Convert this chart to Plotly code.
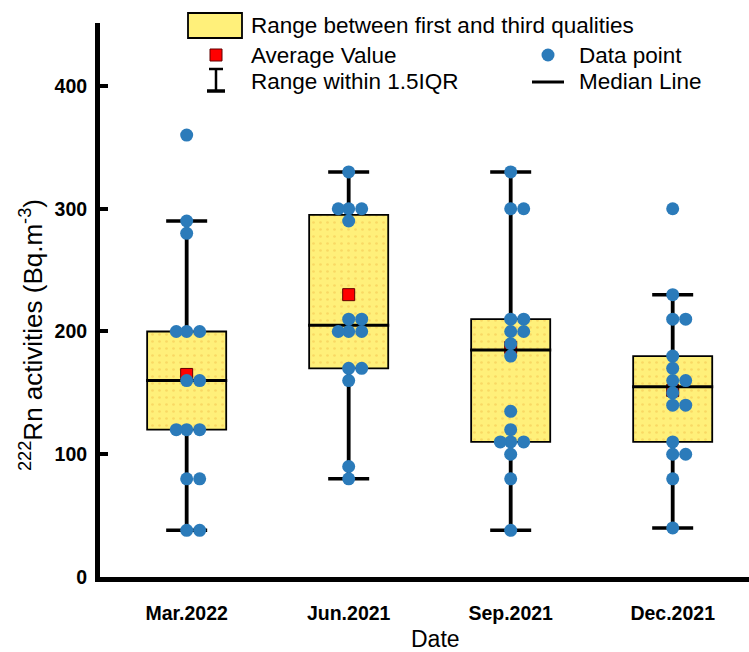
import plotly.graph_objects as go

# ---------------- data ----------------
categories = ["Mar.2022", "Jun.2021", "Sep.2021", "Dec.2021"]

q1_values = [120, 170, 110, 110]
median_values = [160, 205, 185, 155]
q3_values = [200, 295, 210, 180]
lower_whisker = [38, 80, 38, 40]
upper_whisker = [290, 330, 330, 230]
mean_values = [165, 230, 187, 152]

points_mar2022 = [360, 290, 280, 200, 200, 200, 160, 160, 120, 120, 120, 80, 80, 38, 38]
points_jun2021 = [330, 300, 300, 300, 290, 210, 210, 200, 200, 200, 170, 170, 160, 90, 80]
points_sep2021 = [330, 300, 300, 210, 210, 200, 200, 190, 180, 135, 120, 110, 110, 110, 100, 80, 38]
points_dec2021 = [300, 230, 210, 210, 180, 170, 160, 160, 150, 140, 140, 110, 100, 100, 80, 40]
all_points = [points_mar2022, points_jun2021, points_sep2021, points_dec2021]

y_tick_values = [0, 100, 200, 300, 400]

# ---------------- layout constants ----------------
W, H = 749, 652
ML, MR, MT, MB = 100, 0, 23, 75
PW, PH = W - ML - MR, H - MT - MB
X_RANGE = [-0.535, 3.471]
Y_RANGE = [0, 451.3]
PX_PER_X = PW / (X_RANGE[1] - X_RANGE[0])
PX_PER_Y = PH / (Y_RANGE[1] - Y_RANGE[0])

BOX_W = 0.488
YELLOW = "#FFF07A"
BLUE = "#2B7BBA"
RED = "#FF0000"
FONT = "Liberation Sans, Arial, sans-serif"
LINE_EW_FACTOR = 1.4  # plotly's line-ew symbol spans 1.4 * size


def swarm_offsets(values, step_px=6.5, min_dist_px=7.5):
    """Simple deterministic beeswarm layout (x offsets in data units)."""
    placed = []
    offs = []
    for v in values:
        vy = v * PX_PER_Y
        cands = [0.0]
        for i in range(1, 12):
            cands += [i * step_px, -i * step_px * 0.8]
        c = 0.0
        for c in cands:
            if all(((c - p) ** 2 + (vy - q) ** 2) ** 0.5 >= min_dist_px for p, q in placed):
                break
        placed.append((c, vy))
        offs.append(c / PX_PER_X)
    return offs


fig = go.Figure()

idx = list(range(len(categories)))

# box bodies (Q1-Q3)
fig.add_trace(go.Bar(
    x=idx,
    base=q1_values,
    y=[q3 - q1 for q1, q3 in zip(q1_values, q3_values)],
    width=BOX_W,
    marker=dict(
        color=YELLOW,
        line=dict(color="black", width=1.8),
        pattern=dict(shape=".", fgcolor="#F2C24E", bgcolor=YELLOW, size=7, solidity=0.12),
    ),
    showlegend=False,
    hoverinfo="skip",
))

# whiskers
wx, wy = [], []
for i in idx:
    wx += [i, i, None, i, i, None]
    wy += [q3_values[i], upper_whisker[i], None, q1_values[i], lower_whisker[i], None]
fig.add_trace(go.Scatter(x=wx, y=wy, mode="lines",
                         line=dict(color="black", width=3.8),
                         showlegend=False, hoverinfo="skip"))

# whisker caps
fig.add_trace(go.Scatter(
    x=idx + idx, y=upper_whisker + lower_whisker, mode="markers",
    marker=dict(symbol="line-ew", size=41 / LINE_EW_FACTOR, line=dict(color="black", width=3.5)),
    showlegend=False, hoverinfo="skip"))

# mean
fig.add_trace(go.Scatter(
    x=idx, y=mean_values, mode="markers",
    marker=dict(symbol="square", size=12, color=RED, line=dict(color="#600000", width=1)),
    showlegend=False))

# median
fig.add_trace(go.Scatter(
    x=idx, y=median_values, mode="markers",
    marker=dict(symbol="line-ew", size=(BOX_W * PX_PER_X + 2) / LINE_EW_FACTOR,
                line=dict(color="black", width=3)),
    showlegend=False))

# data points
for i, pts in enumerate(all_points):
    offs = swarm_offsets(pts)
    fig.add_trace(go.Scatter(
        x=[i + o for o in offs], y=pts, mode="markers",
        marker=dict(symbol="circle", size=13, color=BLUE),
        showlegend=False))


# ---------------- manual legend ----------------
def px(xp):
    return (xp - ML) / PW


def py(yp):
    return (H - MB - yp) / PH


shapes = [
    dict(type="rect", xref="paper", yref="paper", x0=px(188), x1=px(242), y0=py(38), y1=py(13),
         fillcolor=YELLOW, line=dict(color="black", width=1.8)),
    dict(type="rect", xref="paper", yref="paper", x0=px(210), x1=px(222), y0=py(61), y1=py(49),
         fillcolor=RED, line=dict(color="#600000", width=1)),
    dict(type="line", xref="paper", yref="paper", x0=px(216), x1=px(216), y0=py(91), y1=py(69),
         line=dict(color="black", width=2.5)),
    dict(type="line", xref="paper", yref="paper", x0=px(209), x1=px(223), y0=py(69), y1=py(69),
         line=dict(color="black", width=2.5)),
    dict(type="line", xref="paper", yref="paper", x0=px(207), x1=px(225), y0=py(91), y1=py(91),
         line=dict(color="black", width=3.5)),
    dict(type="circle", xref="paper", yref="paper", x0=px(541.5), x1=px(554.5), y0=py(61.5), y1=py(48.5),
         fillcolor=BLUE, line=dict(color=BLUE, width=0)),
    dict(type="line", xref="paper", yref="paper", x0=px(532), x1=px(564), y0=py(82), y1=py(82),
         line=dict(color="black", width=3)),
]

legend_text = [
    ("Range between first and third qualities", 249, 25),
    ("Average Value", 249, 55),
    ("Range within 1.5IQR", 249, 82),
    ("Data point", 577, 55),
    ("Median Line", 577, 82),
]
annotations = [
    dict(text=t, xref="paper", yref="paper", x=px(xp), y=py(yp), xanchor="left", yanchor="middle",
         showarrow=False, font=dict(family=FONT, size=22.5, color="black"))
    for t, xp, yp in legend_text
]
# axis titles
annotations.append(dict(text="Date", xref="paper", yref="paper", x=px(435), y=py(639),
                        xanchor="center", yanchor="middle", showarrow=False,
                        font=dict(family=FONT, size=23, color="black")))
annotations.append(dict(text="<sup>222</sup>Rn activities (Bq.m<sup>-3</sup>)", xref="paper", yref="paper",
                        x=px(31), y=py(335), xanchor="center", yanchor="middle", textangle=-90,
                        showarrow=False, font=dict(family=FONT, size=26, color="black")))

fig.update_layout(
    width=W, height=H,
    margin=dict(l=ML, r=MR, t=MT, b=MB),
    paper_bgcolor="white", plot_bgcolor="white",
    shapes=shapes, annotations=annotations,
    showlegend=False,
    font=dict(family=FONT, color="black"),
    xaxis=dict(range=X_RANGE, tickvals=idx, ticktext=categories, showgrid=False, zeroline=False,
               showline=True, linecolor="black", linewidth=5, ticks="",
               tickfont=dict(family=FONT, size=19.5, color="black", weight="bold"),
               ticklabelstandoff=15),
    yaxis=dict(range=Y_RANGE, tickvals=y_tick_values, showgrid=False, zeroline=False,
               showline=True, linecolor="black", linewidth=5, ticks="inside", ticklen=8, tickwidth=4,
               tickcolor="black",
               tickfont=dict(family=FONT, size=19.5, color="black", weight="bold"),
               ticklabelstandoff=4),
)

fig.write_html("out.html", config={"displayModeBar": False},
               post_script="document.body.style.margin='0px';")
